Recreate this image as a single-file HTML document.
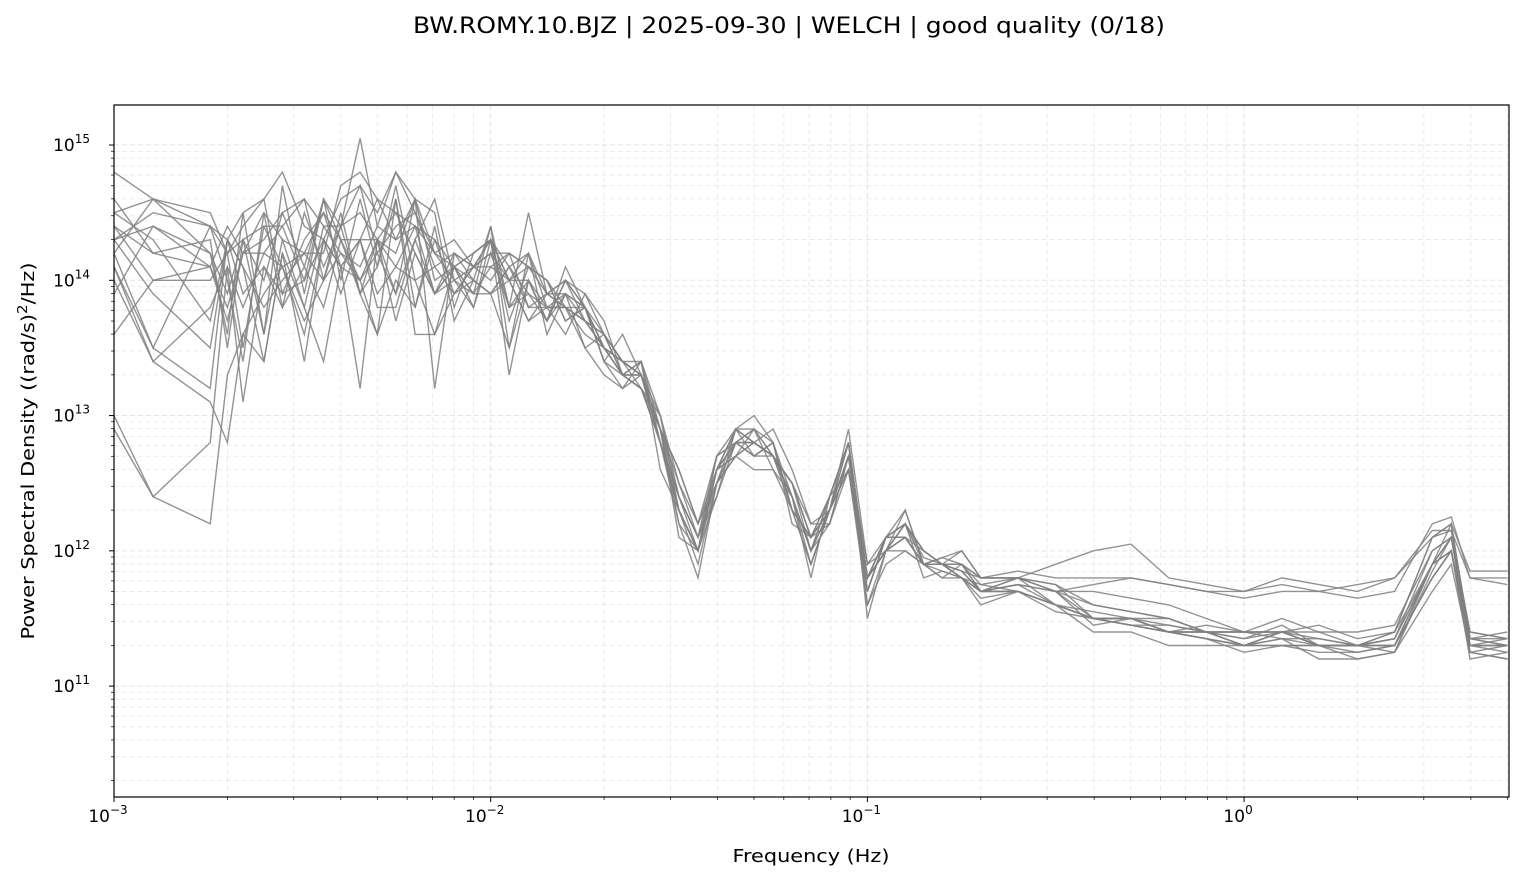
<!DOCTYPE html>
<html><head><meta charset="utf-8"><style>
body{margin:0;background:#fff;font-family:"Liberation Sans","DejaVu Sans",sans-serif;}
svg text{font-family:"DejaVu Sans","Liberation Sans",sans-serif;fill:#000;}
</style></head><body>
<svg id="chart" width="1523" height="881" viewBox="0 0 1523 881" xmlns="http://www.w3.org/2000/svg">
<rect width="1523" height="881" fill="#fff"/>
<text x="789" y="33" font-size="22" text-anchor="middle" textLength="752" lengthAdjust="spacingAndGlyphs">BW.ROMY.10.BJZ | 2025-09-30 | WELCH | good quality (0/18)</text>
<g id="grid"></g><g id="series"></g><g id="axes"></g>
<text x="811" y="862" font-size="18" text-anchor="middle" textLength="157" lengthAdjust="spacingAndGlyphs">Frequency (Hz)</text>
<text transform="translate(34,451) rotate(-90)" font-size="18" text-anchor="middle" textLength="377" lengthAdjust="spacingAndGlyphs">Power Spectral Density ((rad/s)<tspan font-size="13" dy="-7">2</tspan><tspan dy="7">/Hz)</tspan></text>
</svg>
<script>
const freqs=[0.001,0.00127,0.0018,0.002,0.0022,0.0025,0.0028,0.0032,0.0036,0.004,0.0045,0.005,0.0056,0.0063,0.0071,0.008,0.009,0.01,0.0112,0.0126,0.0141,0.0158,0.0178,0.02,0.0224,0.0251,0.0282,0.0316,0.0355,0.0398,0.0447,0.05,0.0562,0.0631,0.0708,0.0794,0.0891,0.1,0.112,0.126,0.141,0.158,0.178,0.2,0.251,0.316,0.398,0.501,0.631,0.794,1.0,1.26,1.58,2.0,2.51,3.16,3.55,3.98,5.0];
const s1=[14.8,14.6,14.4,14.3,14.5,14.6,14.8,14.4,14.3,14.6,14.7,14.5,14.8,14.6,14.2,14.0,14.1,14.3,14.0,14.2,13.9,13.8,13.6,13.5,13.3,13.2,12.8,12.3,12.0,12.6,12.8,12.9,12.7,12.5,12.1,12.4,12.8,11.8,12.1,12.2,12.0,11.9,11.8,11.7,11.8,11.9,12.0,12.05,11.8,11.75,11.7,11.8,11.75,11.7,11.8,12.1,12.2,11.85,11.85];
const s2=[14.3,14.4,14.2,13.9,14.3,13.6,14.3,13.8,14.4,14.4,14.7,14.2,13.9,14.6,13.2,14.2,14.0,14.4,13.5,14.2,13.6,13.9,13.7,13.6,13.3,13.4,12.6,12.3,12.0,12.6,12.9,12.8,12.7,12.4,11.8,12.4,12.8,11.5,12.0,12.2,11.8,11.85,11.8,11.6,11.7,11.6,11.5,11.5,11.4,11.35,11.3,11.4,11.3,11.3,11.35,11.9,12.1,11.3,11.35];
const s3=[13.0,12.4,12.2,13.3,13.6,13.9,14.1,13.7,14.0,14.5,13.9,13.6,14.6,13.8,14.3,14.1,13.9,14.1,14.0,13.7,13.9,13.9,13.8,13.4,13.6,13.3,13.0,12.4,12.1,12.4,12.9,12.7,12.8,12.2,12.1,12.2,12.6,11.7,12.1,12.1,12.0,11.9,12.0,11.8,11.8,11.7,11.5,11.5,11.4,11.4,11.3,11.3,11.3,11.3,11.4,11.9,12.0,11.3,11.3];
const s4=[14.6,14.2,14.3,13.5,14.3,14.0,14.5,14.6,14.4,14.2,14.0,14.3,14.1,14.0,14.1,13.9,14.1,14.3,13.3,14.0,13.8,13.9,13.5,13.6,13.4,13.2,12.8,12.2,11.8,12.5,12.8,12.9,12.6,12.3,12.1,12.3,12.7,11.8,12.0,12.1,11.9,11.9,11.9,11.7,11.75,11.6,11.5,11.45,11.4,11.4,11.35,11.45,11.3,11.3,11.3,11.8,12.0,11.35,11.4];
const s5=[13.9,14.4,14.1,13.8,14.2,14.2,14.4,14.6,14.0,14.2,14.1,14.4,14.3,14.6,14.5,13.8,14.2,14.3,13.7,14.1,14.0,13.7,13.8,13.5,13.3,13.2,12.9,12.2,12.0,12.6,12.9,13.0,12.8,12.3,11.9,12.3,12.9,11.9,12.0,12.3,11.9,11.95,12.0,11.8,11.8,11.75,11.5,11.45,11.4,11.45,11.4,11.4,11.45,11.35,11.4,12.1,12.2,11.35,11.3];
const s6=[14.1,13.4,13.1,12.8,13.6,13.4,14.2,13.4,14.3,13.9,14.3,13.8,13.8,14.3,13.9,14.1,13.8,14.3,14.0,14.0,13.7,14.0,13.8,13.4,13.3,13.4,13.0,12.3,11.9,12.5,12.7,12.6,12.6,12.4,12.0,12.4,12.6,11.8,12.1,12.1,11.9,11.9,11.8,11.65,11.7,11.6,11.4,11.4,11.3,11.3,11.3,11.4,11.3,11.2,11.25,11.7,11.9,11.25,11.2];
const s7=[14.4,14.0,14.1,13.7,14.2,14.5,14.3,14.2,14.2,14.7,14.8,14.6,14.5,14.4,14.3,13.9,14.1,14.2,14.2,14.1,14.0,13.8,13.7,13.5,13.4,13.3,12.9,12.5,12.2,12.6,12.7,12.9,12.7,12.5,12.2,12.2,12.7,11.6,12.0,12.0,11.9,11.8,11.9,11.8,11.85,11.8,11.8,11.8,11.75,11.7,11.7,11.75,11.7,11.75,11.8,12.15,12.15,11.8,11.75];
const s8=[14.5,14.6,14.5,14.2,13.5,14.4,14.4,14.0,14.6,14.0,14.6,14.1,14.7,14.0,13.6,14.1,13.9,13.9,14.0,13.7,13.8,13.6,13.9,13.7,13.3,13.3,12.9,12.1,12.0,12.4,12.8,12.8,12.7,12.4,12.0,12.4,12.8,11.7,12.1,12.3,11.9,11.9,11.85,11.7,11.75,11.7,11.45,11.5,11.4,11.35,11.3,11.35,11.3,11.3,11.35,12.0,12.1,11.3,11.3];
const s9=[14.2,13.5,14.4,14.0,13.4,14.5,13.8,14.1,13.8,14.3,13.9,14.3,13.9,14.3,14.6,14.0,13.9,14.4,13.8,14.0,13.7,14.0,13.9,13.6,13.4,13.4,12.8,12.4,12.1,12.7,12.8,12.7,12.8,12.3,11.9,12.3,12.8,11.8,12.1,12.1,11.9,11.9,11.8,11.7,11.7,11.6,11.5,11.5,11.5,11.4,11.4,11.35,11.2,11.2,11.25,11.9,12.2,11.25,11.2];
const s10=[13.6,14.0,14.0,14.2,14.4,14.6,13.9,14.3,14.5,14.3,14.0,14.2,14.4,14.5,14.1,14.2,14.1,14.0,14.2,14.1,13.9,14.0,13.7,13.5,13.3,13.2,13.0,12.5,12.1,12.5,12.7,12.8,12.7,12.5,12.1,12.3,12.7,11.8,12.0,12.2,12.0,11.9,11.9,11.7,11.8,11.6,11.5,11.5,11.45,11.4,11.35,11.4,11.35,11.3,11.3,11.8,12.0,11.35,11.35];
const s11=[14.3,13.9,13.5,14.3,13.9,14.1,13.8,14.5,14.1,14.4,13.9,14.1,14.6,13.6,13.6,13.9,14.0,13.9,14.1,13.8,13.9,13.8,13.5,13.3,13.2,13.4,12.9,12.6,12.2,12.7,12.9,12.8,12.9,12.6,12.2,12.3,12.6,11.6,11.9,12.0,11.9,11.95,11.9,11.8,11.8,11.7,11.75,11.8,11.75,11.7,11.65,11.7,11.7,11.65,11.7,12.2,12.25,11.8,11.8];
const s12=[14.5,14.3,13.7,14.3,14.1,13.8,14.0,14.2,14.5,14.1,14.3,14.3,14.2,14.6,14.0,14.1,14.2,14.3,14.1,13.9,13.8,13.8,13.8,13.4,13.2,13.3,12.8,12.3,12.0,12.6,12.7,12.8,12.7,12.3,12.1,12.3,12.7,11.9,12.1,12.1,11.9,11.85,11.8,11.75,11.7,11.6,11.55,11.5,11.4,11.4,11.3,11.4,11.3,11.3,11.3,11.9,12.0,11.3,11.3];
const s13=[14.2,14.6,14.2,13.6,14.5,13.6,14.7,13.9,14.6,14.4,15.05,14.4,14.8,14.5,14.2,14.1,14.2,14.3,13.8,14.5,13.9,14.0,13.8,13.5,13.3,13.2,12.9,12.3,12.0,12.6,12.9,12.9,12.8,12.3,12.1,12.4,12.8,11.8,12.0,12.2,12.0,11.9,11.9,11.75,11.8,11.7,11.6,11.55,11.5,11.4,11.4,11.4,11.3,11.3,11.4,12.1,12.15,11.4,11.35];
const s14=[14.0,13.4,13.8,14.1,13.8,14.2,14.1,13.6,14.3,14.1,13.2,14.3,13.7,14.2,13.9,14.0,13.8,14.2,13.8,13.9,13.7,13.9,13.8,13.6,13.3,13.3,12.8,12.4,12.0,12.6,12.8,12.8,12.7,12.4,12.0,12.3,12.6,11.7,12.1,12.2,11.9,11.9,11.8,11.7,11.7,11.6,11.5,11.45,11.4,11.35,11.3,11.3,11.25,11.25,11.3,11.8,12.0,11.25,11.3];
const s15=[14.1,13.5,13.2,14.3,14.1,13.4,14.2,13.8,13.4,14.1,14.0,13.6,14.0,13.8,14.4,13.7,14.0,13.9,13.5,14.0,13.7,14.1,13.8,13.5,13.4,13.3,12.9,12.4,12.1,12.6,12.8,12.7,12.8,12.4,12.0,12.2,12.7,11.8,12.0,12.1,11.9,11.9,11.85,11.7,11.7,11.55,11.5,11.45,11.45,11.4,11.3,11.35,11.35,11.3,11.25,11.85,12.1,11.3,11.25];
const s16=[14.4,14.2,14.1,14.4,14.2,14.3,14.5,14.1,14.6,14.3,14.3,14.6,14.3,14.4,14.2,14.3,14.1,14.1,14.2,13.8,13.8,13.8,13.7,13.6,13.4,13.3,12.8,12.3,12.0,12.7,12.8,12.7,12.7,12.5,12.1,12.3,12.7,11.8,12.1,12.2,11.95,11.9,11.85,11.8,11.8,11.75,11.6,11.55,11.5,11.4,11.4,11.4,11.4,11.3,11.35,11.9,12.1,11.35,11.3];
const s17=[12.9,12.4,12.8,14.1,13.1,14.1,13.9,14.0,14.3,14.1,14.3,13.9,14.1,14.4,13.9,14.1,14.0,13.9,14.1,14.2,13.8,13.8,13.7,13.5,13.4,13.3,12.9,12.6,12.2,12.5,12.8,12.8,12.7,12.5,12.0,12.3,12.8,11.8,12.0,12.1,11.9,11.9,11.8,11.7,11.75,11.7,11.7,11.65,11.6,11.5,11.4,11.5,11.4,11.4,11.45,12.0,12.1,11.4,11.35];
const s18=[14.3,14.5,14.4,14.2,14.3,14.4,14.1,14.2,14.0,14.4,14.5,14.3,14.5,14.2,13.9,14.2,14.1,14.2,14.0,14.1,14.0,13.7,13.8,13.5,13.4,13.3,12.8,12.3,12.0,12.5,12.9,12.8,12.7,12.4,11.9,12.3,12.7,11.7,12.1,12.1,11.9,11.8,11.8,11.7,11.7,11.6,11.5,11.5,11.4,11.35,11.25,11.3,11.3,11.25,11.3,11.9,12.0,11.2,11.25];
const seriesLog10=[s1,s2,s3,s4,s5,s6,s7,s8,s9,s10,s11,s12,s13,s14,s15,s16,s17,s18];
const xTickLabels=["-3","-2","-1","0"];
const yTickLabels=["11","12","13","14","15"];

const NS="http://www.w3.org/2000/svg";
const L=114,R=1509,T=105,B=797;
const xMin=-3,xMax=Math.log10(5.05),yMin=10.18,yMax=15.296;
const xs=f=>L+(Math.log10(f)-xMin)/(xMax-xMin)*(R-L);
const ys=lv=>B-(lv-yMin)/(yMax-yMin)*(B-T);
function mk(tag,attrs,parent){const e=document.createElementNS(NS,tag);for(const k in attrs)e.setAttribute(k,attrs[k]);parent.appendChild(e);return e;}
const grid=document.getElementById('grid'),axes=document.getElementById('axes'),ser=document.getElementById('series');
for(let d=-3;d<=0;d++){for(let m=1;m<10;m++){const f=m*Math.pow(10,d);if(f>5.05)break;const x=xs(f);
 const g=mk('line',{x1:x,x2:x,y1:T,y2:B,stroke:'#b0b0b0','stroke-opacity':m==1?0.35:0.3,'stroke-dasharray':'5,3','stroke-width':m==1?1:0.8},grid);
 
 mk('line',{x1:x,x2:x,y1:B,y2:B+(m==1?5:3),stroke:'#000','stroke-width':m==1?1:0.7},axes);}}
xTickLabels.forEach(p=>{const x=xs(Math.pow(10,+p));const t=mk('text',{x:x-6,y:B+25,'font-size':17,'text-anchor':'middle'},axes);
 
 t.textContent='10';const s=mk('tspan',{'font-size':12,dy:-8},t);s.textContent=p.replace('-','\u2212');});
for(let d=10;d<=15;d++){for(let m=1;m<10;m++){const lv=d+Math.log10(m);if(lv<yMin||lv>yMax)continue;const y=ys(lv);
 const g=mk('line',{x1:L,x2:R,y1:y,y2:y,stroke:'#b0b0b0','stroke-opacity':m==1?0.35:0.3,'stroke-dasharray':'5,3','stroke-width':m==1?1:0.8},grid);
 
 mk('line',{x1:L,x2:L-(m==1?5:3),y1:y,y2:y,stroke:'#000','stroke-width':m==1?1:0.7},axes);}}
yTickLabels.forEach(p=>{const y=ys(+p);const t=mk('text',{x:L-24,y:y+6,'font-size':17,'text-anchor':'end'},axes);
 
 t.textContent='10';const s=mk('tspan',{'font-size':12,dy:-8},t);s.textContent=p;});
const fr=mk('rect',{x:L,y:T,width:R-L,height:B-T,fill:'none',stroke:'#000','stroke-width':1.2},axes);

seriesLog10.forEach((arr,i)=>{const pts=arr.map((v,j)=>xs(freqs[j]).toFixed(1)+','+ys(v).toFixed(1)).join(' ');
 const p=mk('polyline',{points:pts,fill:'none',stroke:'#808080','stroke-opacity':0.85,'stroke-width':1.4},ser);
 
 });
</script>
</body></html>
